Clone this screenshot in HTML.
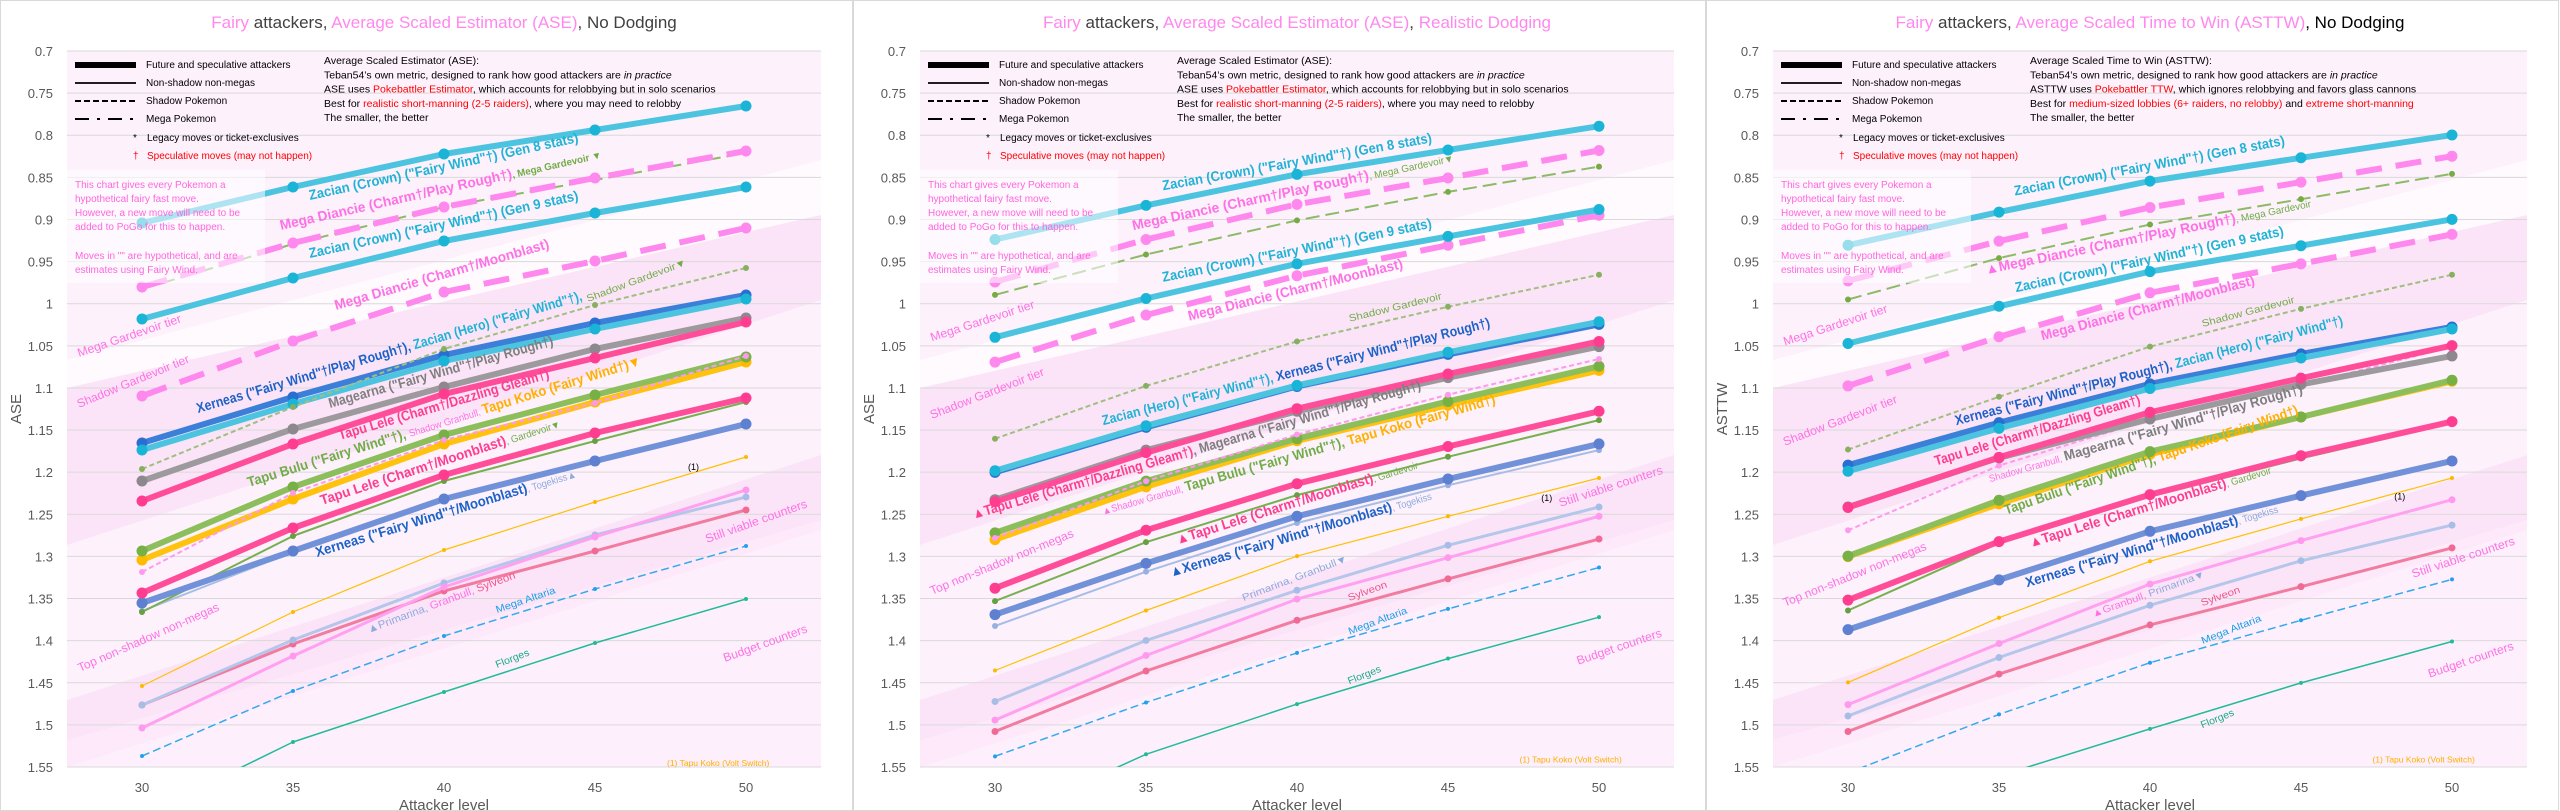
<!DOCTYPE html>
<html><head><meta charset="utf-8">
<style>
html,body{margin:0;padding:0;background:#fff;}
svg{display:block;font-family:"Liberation Sans","DejaVu Sans",sans-serif;}
</style></head>
<body>
<svg id="s" width="2560" height="811" viewBox="0 0 2560 811" xmlns="http://www.w3.org/2000/svg"></svg>
<script>
const NS="http://www.w3.org/2000/svg";
const S=document.getElementById('s');
function el(tag,attrs,parent,text){const e=document.createElementNS(NS,tag);for(const k in attrs)e.setAttribute(k,attrs[k]);if(text!==undefined)e.textContent=text;(parent||S).appendChild(e);return e;}
const L=67,R=821,T=51,B=767;
const yv=v=>51+(v-0.7)*842.35;
const lx=i=>142+i*151;
const st={
 zac:{c:'#4cc4e0',m:'#1ab4d6',w:6,r:5.5},
 mdpink:{c:'#ff88ee',m:'#ff88ee',w:6,r:5.5,d:'26 14'},
 mgard:{c:'#8cbb66',m:'#77ab44',w:2,r:3,d:'14 6'},
 sgard:{c:'#9fbf80',m:'#86b060',w:2,r:3,d:'5 3'},
 xerpr:{c:'#3b7fd9',m:'#2a6fd0',w:6,r:5.5},
 lele:{c:'#ff4d9a',m:'#ff3d90',w:6,r:5.5},
 mag:{c:'#9d9a9e',m:'#8c888d',w:6,r:5.5},
 sgran:{c:'#ff99ee',m:'#ff99ee',w:2,r:3,d:'5 3'},
 bulu:{c:'#8cbf5c',m:'#77b044',w:6,r:5.5},
 koko:{c:'#ffc20e',m:'#ffbb00',w:6,r:5.5},
 gard:{c:'#77b050',m:'#66a040',w:2,r:3},
 xermb:{c:'#7191d8',m:'#5d80d0',w:6,r:5.5},
 toge:{c:'#a8bde6',m:'#98b0e0',w:2,r:3},
 volt:{c:'#ffc000',m:'#ffb800',w:1.2,r:2},
 prim:{c:'#b4c6ea',m:'#a8bde6',w:3,r:3.5},
 lpink:{c:'#ffa0f0',m:'#ff99ee',w:3,r:3.5},
 sylv:{c:'#f27ba0',m:'#f06a95',w:3,r:3.5},
 alt:{c:'#33aaee',m:'#22a0ee',w:1.5,r:2,d:'8 4'},
 flo:{c:'#22bb99',m:'#22bb99',w:1.5,r:2}
};
const order=['volt','alt','flo','sylv','prim','lpink','toge','gard','xermb','lele2','koko','bulu','sgran','mag','lele','xerpr','zach','sgard','mdmb','zac9','mgard','mdpr','zac8'];
const styleOf={zac8:'zac',zac9:'zac',zach:'zac',mdpr:'mdpink',mdmb:'mdpink',lele2:'lele'};
const zs=a=>a.map(v=>v/1.933);
const D=[
 {zac8:[223,187,154,130,106],mdpr:[287,243,207,178,151],mgard:[289,244,207,180,153],zac9:[319,278,241,213,187],mdmb:[396,341,292,261,228],sgard:[469,407,349,305,268],xerpr:[443,397,355,323,295],zach:[450,404,361,329,299],mag:[481,429,387,349,318],lele:[501,444,394,358,322],sgran:[572,493,440,403,356],bulu:[551,487,435,395,357],koko:[560,499,444,402,362],lele2:[593,528,475,433,398],gard:[612,536,481,441,402],xermb:[603,551,499,461,424],toge:[611,552,500,463,426],volt:[686,612,550,502,457],prim:[705,640,583,535,497],sylv:[705,644,591,551,510],lpink:[728,656,587,537,490],alt:[756,691,636,589,546],flo:[816,742,692,643,599]},
 {zac8:zs([463,397,337,290,244]),mdpr:zs([545,463,395,344,291]),mgard:zs([570,492,426,371,322]),zac9:zs([652,577,510,457,405]),mdmb:zs([700,609,533,474,416]),sgard:zs([848,746,660,593,531]),zach:zs([910,823,745,681,622]),xerpr:zs([913,826,747,685,627]),lele:zs([970,875,790,723,660]),mag:zs([966,870,795,730,670]),sgran:zs([1040,930,840,763,694]),bulu:zs([1030,930,848,776,708]),koko:zs([1043,941,852,783,716]),lele2:zs([1137,1025,935,863,795]),gard:zs([1162,1048,957,883,812]),xermb:zs([1188,1089,998,926,858]),toge:zs([1210,1105,1011,938,870]),volt:zs([1296,1180,1075,998,924]),prim:zs([1356,1238,1141,1054,980]),lpink:zs([1392,1267,1158,1078,998]),sylv:zs([1414,1297,1199,1119,1042]),alt:zs([1462,1358,1262,1177,1097]),flo:zs([1590,1458,1361,1273,1193])},
 {zac8:zs([474,410,350,305,261]),mdpr:zs([543,466,401,352,302]),mgard:zs([579,499,434,385,336]),zac9:zs([664,592,525,475,424]),mdmb:zs([746,651,566,510,453]),sgard:zs([869,767,670,597,531]),xerpr:zs([899,817,742,684,632]),zach:zs([911,828,751,692,636]),lele:zs([981,884,797,731,668]),mag:zs([980,885,810,743,688]),sgran:zs([1025,900,811,745,670]),bulu:zs([1075,967,873,806,735]),koko:zs([1076,974,878,806,737]),lele2:zs([1160,1047,956,881,815]),gard:zs([1180,1050,960,886,818]),xermb:zs([1217,1121,1027,958,891]),toge:zs([1221,1124,1030,960,893]),volt:zs([1319,1194,1085,1003,924]),lpink:zs([1362,1244,1129,1045,966]),prim:zs([1384,1271,1170,1084,1015]),sylv:zs([1414,1303,1208,1134,1059]),alt:zs([1494,1381,1281,1199,1120]),flo:zs([1590,1500,1409,1320,1240])}
];
const titles=[
 [['Fairy','#ff88ee'],[' attackers, ','#404040'],['Average Scaled Estimator (ASE)','#ff88ee'],[', No Dodging','#404040']],
 [['Fairy','#ff88ee'],[' attackers, ','#404040'],['Average Scaled Estimator (ASE)','#ff88ee'],[', ','#404040'],['Realistic Dodging','#ff88ee']],
 [['Fairy','#ff88ee'],[' attackers, ','#404040'],['Average Scaled Time to Win (ASTTW)','#ff88ee'],[', No Dodging','#000']]
];
const descs=[
 [[['Average Scaled Estimator (ASE):','#000']],[['Teban54\u2019s own metric, designed to rank how good attackers are ','#000'],['in practice','#000','i']],[['ASE uses ','#000'],['Pokebattler Estimator','#f00'],[', which accounts for relobbying but in solo scenarios','#000']],[['Best for ','#000'],['realistic short-manning (2-5 raiders)','#f00'],[', where you may need to relobby','#000']],[['The smaller, the better','#000']]],
 null,
 [[['Average Scaled Time to Win (ASTTW):','#000']],[['Teban54\u2019s own metric, designed to rank how good attackers are ','#000'],['in practice','#000','i']],[['ASTTW uses ','#000'],['Pokebattler TTW','#f00'],[', which ignores relobbying and favors glass cannons','#000']],[['Best for ','#000'],['medium-sized lobbies (6+ raiders, no relobby)','#f00'],[' and ','#000'],['extreme short-manning','#f00']],[['The smaller, the better','#000']]]
];
descs[1]=descs[0];
const G='#70ad47',CY='#1fb3d6',BL='#1c62c8',PK='#ff70e6',LE='#ff3d8f',GR='#7f7f7f',YE='#ffb000',LB='#8faadc',SY='#f0558a',AL='#1a9fe8',FL='#1aaa88';
// labels: [parts, x1,y1,x2,y2, size, weight, zoomCoords]
const LAB=[
 [
  [[['Zacian (Crown) ("Fairy Wind"\u2020) (Gen 8 stats)',CY]],310,200,579,142,14,'bold'],
  [[['Mega Diancie (Charm\u2020/Play Rough\u2020)',PK],[', Mega Gardevoir \u25BC',G,10]],281,230,602,158,14,'bold'],
  [[['Zacian (Crown) ("Fairy Wind"\u2020) (Gen 9 stats)',CY]],310,258,579,200,14,'bold'],
  [[['Mega Diancie (Charm\u2020/Moonblast)',PK]],336,310,550,248,14,'bold'],
  [[['Shadow Gardevoir\u25BC',G]],588,302,687,265,10,'normal'],
  [[['Xerneas ("Fairy Wind"\u2020/Play Rough\u2020), ',BL],['Zacian (Hero) ("Fairy Wind"\u2020), ',CY]],198,413,583,300,14,'bold'],
  [[['Magearna ("Fairy Wind"\u2020/Play Rough\u2020)',GR]],330,408,554,345,14,'bold'],
  [[['Tapu Lele (Charm\u2020/Dazzling Gleam\u2020)',LE]],340,440,550,378,14,'bold'],
  [[['Tapu Bulu ("Fairy Wind"\u2020), ',G],['Shadow Granbull, ',PK,10,'normal'],['Tapu Koko (Fairy Wind\u2020)\u25BC',YE]],249,487,642,365,14,'bold'],
  [[['Tapu Lele (Charm\u2020/Moonblast)',LE],[', Gardevoir\u25BC',G,10,'normal']],322,505,561,427,14,'bold'],
  [[['Xerneas ("Fairy Wind"\u2020/Moonblast)',BL],[', Togekiss\u25B2',LB,10,'normal']],317,557,577,477,14,'bold'],
  [[['\u25B2Primarina, ',LB],['Granbull, ',PK],['Sylveon',SY]],369,633,516,578,11,'normal'],
  [[['Mega Altaria',AL]],497,613,556,593,10,'normal'],
  [[['Florges',FL]],497,668,530,655,10,'normal'],
  [[['Mega Gardevoir tier',PK]],79,357,182,322,12,'normal'],
  [[['Shadow Gardevoir tier',PK]],79,408,190,362,12,'normal'],
  [[['Top non-shadow non-megas',PK]],80,672,220,610,12,'normal'],
  [[['Still viable counters',PK]],707,543,808,507,12,'normal'],
  [[['Budget counters',PK]],725,662,808,632,12,'normal']
 ],
 [
  [[['Zacian (Crown) ("Fairy Wind"\u2020) (Gen 8 stats)',CY]],570,368,1065,275,14,'bold',1],
  [[['Mega Diancie (Charm\u2020/Play Rough\u2020)',PK],[', Mega Gardevoir\u25BC',G,10,'normal']],515,445,1105,312,14,'bold',1],
  [[['Zacian (Crown) ("Fairy Wind"\u2020) (Gen 9 stats)',CY]],570,545,1065,440,14,'bold',1],
  [[['Mega Diancie (Charm\u2020/Moonblast)',PK]],618,620,1012,518,14,'bold',1],
  [[['Shadow Gardevoir',G]],913,622,1083,578,10,'normal',1],
  [[['Zacian (Hero) ("Fairy Wind"\u2020), ',CY],['Xerneas ("Fairy Wind"\u2020/Play Rough\u2020)',BL]],460,822,1172,632,14,'bold',1],
  [[['\u25B2Tapu Lele (Charm\u2020/Dazzling Gleam\u2020)',LE],[', Magearna ("Fairy Wind"\u2020/Play Rough\u2020)',GR]],222,1003,1045,752,14,'bold',1],
  [[['\u25B2Shadow Granbull, ',PK,10,'normal'],['Tapu Bulu ("Fairy Wind"\u2020), ',G],['Tapu Koko (Fairy Wind\u2020)',YE]],460,995,1182,780,14,'bold',1],
  [[['\u25B2Tapu Lele (Charm\u2020/Moonblast)',LE],[', Gardevoir',G,10,'normal']],597,1052,1040,905,14,'bold',1],
  [[['\u25B2Xerneas ("Fairy Wind"\u2020/Moonblast)',BL],[', Togekiss',LB,10,'normal']],585,1115,1065,965,14,'bold',1],
  [[['Primarina, Granbull\u25BC',LB]],718,1162,910,1085,10,'normal',1],
  [[['Sylveon',SY]],912,1162,983,1135,10,'normal',1],
  [[['Mega Altaria',AL]],913,1227,1020,1185,10,'normal',1],
  [[['Florges',FL]],912,1323,972,1298,10,'normal',1],
  [[['Mega Gardevoir tier',PK]],145,660,335,595,12,'normal',1],
  [[['Shadow Gardevoir tier',PK]],145,810,353,725,12,'normal',1],
  [[['Top non-shadow non-megas',PK]],145,1150,407,1037,12,'normal',1],
  [[['Still viable counters',PK]],1300,980,1490,915,12,'normal',1],
  [[['Budget counters',PK]],1333,1285,1488,1230,12,'normal',1]
 ],
 [
  [[['Zacian (Crown) ("Fairy Wind"\u2020) (Gen 8 stats)',CY]],568,378,1065,280,14,'bold',1],
  [[['\u25B2Mega Diancie (Charm\u2020/Play Rough\u2020)',PK],[', Mega Gardevoir',G,10,'normal']],515,530,1113,400,14,'bold',1],
  [[['Zacian (Crown) ("Fairy Wind"\u2020) (Gen 9 stats)',CY]],570,565,1063,455,14,'bold',1],
  [[['Mega Diancie (Charm\u2020/Moonblast)',PK]],618,658,1010,550,14,'bold',1],
  [[['Shadow Gardevoir',G]],913,632,1083,585,10,'normal',1],
  [[['Xerneas ("Fairy Wind"\u2020/Play Rough\u2020), ',BL],['Zacian (Hero) ("Fairy Wind"\u2020)',CY]],460,822,1172,628,14,'bold',1],
  [[['Tapu Lele (Charm\u2020/Dazzling Gleam\u2020)',LE]],423,900,800,780,14,'bold',1],
  [[['Shadow Granbull, ',PK,10,'normal'],['Magearna ("Fairy Wind"\u2020/Play Rough\u2020)',GR]],522,932,1098,760,14,'bold',1],
  [[['Tapu Bulu ("Fairy Wind"\u2020), ',G],['Tapu Koko (Fairy Wind\u2020)',YE]],552,995,1090,800,14,'bold',1],
  [[['\u25B2Tapu Lele (Charm\u2020/Moonblast)',LE],[', Gardevoir',G,10,'normal']],597,1058,1040,915,14,'bold',1],
  [[['Xerneas ("Fairy Wind"\u2020/Moonblast)',BL],[', Togekiss',LB,10,'normal']],590,1135,1053,990,14,'bold',1],
  [[['\u25B2Granbull, ',PK],['Primarina\u25BC',LB]],712,1193,918,1115,10,'normal',1],
  [[['Sylveon',SY]],912,1172,983,1145,10,'normal',1],
  [[['Mega Altaria',AL]],913,1245,1022,1200,10,'normal',1],
  [[['Florges',FL]],912,1408,972,1382,10,'normal',1],
  [[['Mega Gardevoir tier',PK]],145,668,335,603,12,'normal',1],
  [[['Shadow Gardevoir tier',PK]],145,862,353,778,12,'normal',1],
  [[['Top non-shadow non-megas',PK]],145,1173,407,1062,12,'normal',1],
  [[['Still viable counters',PK]],1300,1117,1488,1052,12,'normal',1],
  [[['Budget counters',PK]],1330,1310,1486,1255,12,'normal',1]
 ]
];
const one=[[688,470],[1265/1.838,968/1.933],[1265/1.838,966/1.933]];
const yt=['ASE','ASE','ASTTW'];
for(let p=0;p<3;p++){
 const ox=p*853;
 const g=el('g',{transform:`translate(${ox},0)`});
 el('rect',{x:0.5,y:0.5,width:852,height:810,fill:'#fff',stroke:'#d9d9d9'},g);
 const cid='c'+p;
 const cp=el('clipPath',{id:cid},g);el('rect',{x:L,y:T,width:R-L,height:B-T},cp);
 const bg=el('g',{'clip-path':`url(#${cid})`},g);
 el('rect',{x:L,y:T,width:R-L,height:B-T,fill:'#fdf1fc'},bg);
 el('polygon',{points:`${L},360 ${R},160 ${R},215 ${L},388`,fill:'#fefafe'},bg);
 el('polygon',{points:`${L},388 ${R},215 ${R},300 ${L},545`,fill:'#fce4f8'},bg);
 el('polygon',{points:`${L},700 ${R},455 ${R},530 ${L},767`,fill:'#fce4f8'},bg);
 el('polygon',{points:`${L},767 ${L},740 ${R},520 ${R},767`,fill:'#fdeefb',opacity:0.5},bg);
 for(let i=0;i<=17;i++){const y=yv(0.7+i*0.05);el('line',{x1:L,x2:R,y1:y,y2:y,stroke:'#d9d9d9','stroke-width':1},g);
  el('text',{x:53,y:y+5,'text-anchor':'end','font-size':13,fill:'#595959'},g,(Math.round((0.7+i*0.05)*100)/100).toString());}
 [30,35,40,45,50].forEach((l,i)=>el('text',{x:lx(i),y:792,'text-anchor':'middle','font-size':13,fill:'#595959'},g,l));
 el('text',{x:444,y:810,'text-anchor':'middle','font-size':15,fill:'#595959'},g,'Attacker level');
 el('text',{x:0,y:0,transform:`translate(21,409) rotate(-90)`,'text-anchor':'middle','font-size':15,fill:'#595959'},g,yt[p]);
 // title
 const tt=el('text',{x:444,y:28,'text-anchor':'middle','font-size':17},g);
 titles[p].forEach(t=>el('tspan',{fill:t[1]},tt,t[0]));
 // series
 const lg=el('g',{'clip-path':`url(#${cid})`},g);
 order.forEach(k=>{const s=st[styleOf[k]||k];const ys=D[p][k];if(!ys)return;
  const pts=ys.map((y,i)=>lx(i)+','+y.toFixed(1)).join(' ');
  const a={points:pts,fill:'none',stroke:s.c,'stroke-width':s.w,'stroke-linejoin':'round','stroke-linecap':s.d?'butt':'round'};
  if(s.d)a['stroke-dasharray']=s.d;
  el('polyline',a,lg);
  ys.forEach((y,i)=>el('circle',{cx:lx(i),cy:y,r:s.r,fill:s.m},lg));
 });
 // note box
 el('rect',{x:L,y:170,width:198,height:113,fill:'#fff','fill-opacity':0.55},g);
 const notes=[['This chart gives every Pokemon a',188],['hypothetical fairy fast move.',202],['However, a new move will need to be',216],['added to PoGo for this to happen.',230],['Moves in "" are hypothetical, and are',259],['estimates using Fairy Wind.',273]];
 notes.forEach(n=>el('text',{x:75,y:n[1],'font-size':10,fill:'#ff66dd'},g,n[0]));
 // legend
 el('line',{x1:75,x2:136,y1:65,y2:65,stroke:'#000','stroke-width':6},g);
 el('line',{x1:75,x2:136,y1:83,y2:83,stroke:'#000','stroke-width':1.8},g);
 el('line',{x1:75,x2:136,y1:101,y2:101,stroke:'#000','stroke-width':2,'stroke-dasharray':'6 3'},g);
 el('line',{x1:75,x2:136,y1:119,y2:119,stroke:'#000','stroke-width':2,'stroke-dasharray':'14 8 3 8'},g);
 [['Future and speculative attackers',68,'#000',146],['Non-shadow non-megas',86,'#000',146],['Shadow Pokemon',104,'#000',146],['Mega Pokemon',122,'#000',146],['Legacy moves or ticket-exclusives',141,'#000',147],['Speculative moves (may not happen)',159,'#f00',147]].forEach(r=>el('text',{x:r[3],y:r[1],'font-size':10,fill:r[2]},g,r[0]));
 el('text',{x:133,y:141,'font-size':10,fill:'#000'},g,'*');
 el('text',{x:133,y:159,'font-size':10,fill:'#f00'},g,'\u2020');
 // description
 descs[p].forEach((line,i)=>{const t=el('text',{x:324,y:64+i*14.3,'font-size':10.5},g);
  line.forEach(pt=>{const a={fill:pt[1]};if(pt[2])a['font-style']='italic';el('tspan',a,t,pt[0]);});});
 // labels
 LAB[p].forEach(lb=>{let [parts,x1,y1,x2,y2,fs,fw,z]=lb;
  if(z){x1/=1.838;x2/=1.838;y1/=1.933;y2/=1.933;}
  const len=Math.hypot(x2-x1,y2-y1),ang=Math.atan2(y2-y1,x2-x1)*180/Math.PI;
  const t=el('text',{x:0,y:0,transform:`translate(${x1.toFixed(1)},${y1.toFixed(1)}) rotate(${ang.toFixed(2)})`,'font-size':fs,'font-weight':fw,textLength:len.toFixed(1),lengthAdjust:'spacingAndGlyphs'},g);
  parts.forEach(pt=>{const a={fill:pt[1]};if(pt[2])a['font-size']=pt[2];if(pt[3])a['font-weight']=pt[3];el('tspan',a,t,pt[0]);});
 });
 el('text',{x:one[p][0],y:one[p][1],'font-size':9,fill:'#000'},g,'(1)');
 el('text',{x:p==0?667:1225/1.838,y:p==0?766:1474/1.933,'font-size':8.5,fill:'#ffb000'},g,'(1) Tapu Koko (Volt Switch)');
}
</script>
</body></html>
